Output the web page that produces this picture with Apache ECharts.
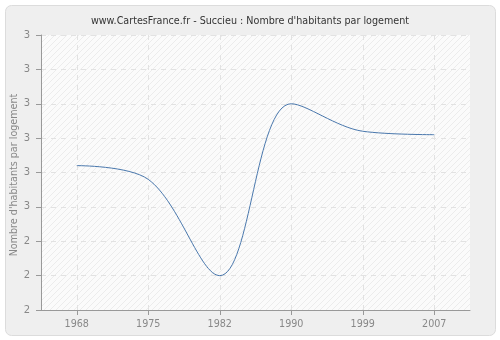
<!DOCTYPE html>
<html>
<head>
<meta charset="utf-8">
<script src="https://cdn.jsdelivr.net/npm/echarts@6/dist/echarts.min.js"></script>
<style>html,body{margin:0;padding:0;background:#fff}#c{width:500px;height:340px}</style>
</head>
<body>
<div id="c"></div>
<script>
const titleText = "www.CartesFrance.fr - Succieu : Nombre d'habitants par logement";
const yAxisName = "Nombre d'habitants par logement";
const years = ["1968", "1975", "1982", "1990", "1999", "2007"];
const values = [2.62, 2.58, 2.30, 2.80, 2.72, 2.71];
const yMin = 2.2, yMax = 3.0, yStep = 0.1;

// hatch pattern for the plot background
const pc = document.createElement('canvas');
pc.width = 6; pc.height = 6;
const pctx = pc.getContext('2d');
pctx.fillStyle = '#fbfbfb';
pctx.fillRect(0, 0, 6, 6);
pctx.strokeStyle = '#ececec';
pctx.lineWidth = 1;
pctx.beginPath();
pctx.moveTo(-1, 7); pctx.lineTo(7, -1);
pctx.moveTo(-1, 1); pctx.lineTo(1, -1);
pctx.moveTo(5, 7); pctx.lineTo(7, 5);
pctx.stroke();

const FS = 10;
const chart = echarts.init(document.getElementById('c'), null, {renderer: 'canvas'});
const data = values.map((v, i) => [i, v]);
chart.setOption({
  animation: false,
  backgroundColor: '#ffffff',
  graphic: [{
    type: 'rect', left: 5, top: 5, z: -10,
    shape: {width: 490, height: 330, r: 6},
    style: {fill: '#efefef', stroke: '#dcdcdc', lineWidth: 1}
  }, {
    type: 'text', x: 14, y: 175, rotation: Math.PI / 2, z: 10,
    style: {text: yAxisName, fill: '#888', font: '9.6px "DejaVu Sans"', align: 'center', verticalAlign: 'middle'}
  }],
  title: {
    text: titleText, left: 'center', top: 11,
    textStyle: {fontFamily: 'DejaVu Sans', fontSize: 9.6, fontWeight: 'normal', color: '#333'}
  },
  grid: {
    left: 41, right: 30, top: 35, bottom: 30, show: true,
    outerBoundsMode: 'none', containLabel: false,
    backgroundColor: {image: pc, repeat: 'repeat'}, borderWidth: 0
  },
  xAxis: {
    type: 'value', min: -0.5, max: 5.5,
    axisLine: {show: true, onZero: false, lineStyle: {color: '#999'}},
    axisTick: {show: true, length: 5, lineStyle: {color: '#999'}, customValues: [0,1,2,3,4,5]},
    axisLabel: {
      customValues: [0,1,2,3,4,5], color: '#888', fontFamily: 'DejaVu Sans', fontSize: 9.6, margin: 9,
      formatter: v => years[Math.round(v)]
    },
    splitLine: {show: true, lineStyle: {color: '#e2e2e2', type: [5, 5]}}
  },
  yAxis: {
    type: 'value', min: yMin, max: yMax, interval: yStep,
    axisLine: {show: true, onZero: false, lineStyle: {color: '#999'}},
    axisTick: {show: true, length: 5, lineStyle: {color: '#999'}},
    axisLabel: {color: '#888', fontFamily: 'DejaVu Sans', fontSize: FS, margin: 11,
      formatter: v => String(Math.round(v + 1e-9))},
    splitLine: {show: true, lineStyle: {color: '#e2e2e2', type: [5, 5]}}
  },
  series: [{
    type: 'line', data: data, smooth: 0.35, showSymbol: false,
    lineStyle: {color: '#4a78ad', width: 1}
  }]
});
</script>
</body>
</html>
